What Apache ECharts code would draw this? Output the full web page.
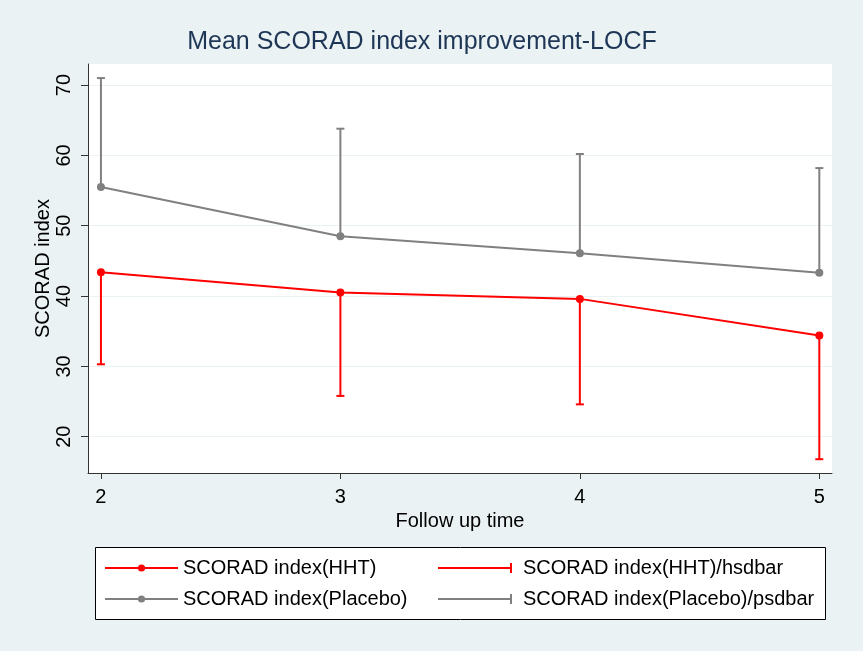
<!DOCTYPE html>
<html>
<head>
<meta charset="utf-8">
<script src="https://cdn.jsdelivr.net/npm/echarts@6/dist/echarts.min.js"></script>
<style>
html,body{margin:0;padding:0;background:#eaf2f3;}
#chart{width:863px;height:651px;}
</style>
</head>
<body>
<div id="chart"></div>
<script>
// ---- data ----
var followUpTime = [2, 3, 4, 5];
var hhtMean = [43.4, 40.5, 39.6, 34.4];
var hhtLowerSd = [30.3, 25.8, 24.6, 16.8];
var placeboMean = [55.5, 48.5, 46.1, 43.3];
var placeboUpperSd = [71.0, 63.8, 60.2, 58.2];
var xTicks = [2, 3, 4, 5];
var yTicks = [20, 30, 40, 50, 60, 70];

var FONT = '"Liberation Sans", Arial, sans-serif';
var RED = '#ff0000';
var GRAY = '#808080';

function pairs(xs, ys) { return xs.map(function (x, i) { return [x, ys[i]]; }); }
function triples(xs, a, b) { return xs.map(function (x, i) { return [x, a[i], b[i]]; }); }

function errRender(params, api) {
  var p0 = api.coord([api.value(0), api.value(1)]);
  var p1 = api.coord([api.value(0), api.value(2)]);
  var c = api.visual('color');
  var hw = 4;
  return {
    type: 'group',
    children: [
      { type: 'line', shape: { x1: p0[0], y1: p0[1], x2: p1[0], y2: p1[1] }, style: { stroke: c, lineWidth: 2 } },
      { type: 'line', shape: { x1: p1[0] - hw, y1: p1[1], x2: p1[0] + hw, y2: p1[1] }, style: { stroke: c, lineWidth: 2 } }
    ]
  };
}

var barIcon = 'path://M0,4 L72,4 L72,0 L74,0 L74,10 L72,10 L72,6 L0,6 Z';

var chart = echarts.init(document.getElementById('chart'), null, { renderer: 'canvas' });
chart.setOption({
  backgroundColor: '#eaf2f3',
  animation: false,
  textStyle: { fontFamily: FONT },
  title: {
    text: 'Mean SCORAD index improvement-LOCF',
    left: 422, top: 30, textAlign: 'center',
    padding: 0,
    textStyle: { fontFamily: FONT, fontSize: 25, fontWeight: 'normal', color: '#1e3656' }
  },
  graphic: [{
    type: 'rect', left: 95, top: 547, z: 0,
    shape: { width: 730, height: 72 },
    style: { fill: '#ffffff', stroke: '#000000', lineWidth: 1 }
  }],
  grid: {
    left: 88, right: 31, top: 64, bottom: 178,
    show: true, backgroundColor: '#ffffff', borderWidth: 0
  },
  legend: [{
    orient: 'vertical', left: 104, top: 558, padding: 0,
    itemWidth: 73, itemHeight: 9, itemGap: 11,
    data: ['SCORAD index(HHT)', 'SCORAD index(Placebo)'],
    textStyle: { fontFamily: FONT, fontSize: 20, color: '#000', lineHeight: 20 }
  }, {
    orient: 'vertical', left: 438, top: 558, padding: 0,
    itemWidth: 74, itemHeight: 10, itemGap: 11,
    data: [
      { name: 'SCORAD index(HHT)/hsdbar', icon: barIcon },
      { name: 'SCORAD index(Placebo)/psdbar', icon: barIcon }
    ],
    textStyle: { fontFamily: FONT, fontSize: 20, color: '#000', lineHeight: 20, padding: [0, 0, 0, 6] }
  }],
  xAxis: {
    type: 'value', min: 1.946, max: 5.053,
    name: 'Follow up time', nameLocation: 'middle', nameGap: 38,
    nameMoveOverlap: false,
    nameTextStyle: { fontFamily: FONT, fontSize: 20, color: '#000' },
    axisLine: { show: true, onZero: false, lineStyle: { color: '#333', width: 1 } },
    axisTick: { show: true, length: 6, customValues: xTicks, lineStyle: { color: '#333' } },
    axisLabel: { customValues: xTicks, margin: 14, fontFamily: FONT, fontSize: 20, color: '#000' },
    splitLine: { show: false }
  },
  yAxis: {
    type: 'value', min: 14.84, max: 73.0,
    name: 'SCORAD index', nameLocation: 'middle', nameGap: 35, nameRotate: 90,
    nameMoveOverlap: false,
    nameTextStyle: { fontFamily: FONT, fontSize: 20, color: '#000' },
    axisLine: { show: true, onZero: false, lineStyle: { color: '#333', width: 1 } },
    axisTick: { show: true, length: 7, customValues: yTicks, lineStyle: { color: '#333' } },
    axisLabel: { customValues: yTicks, rotate: 90, margin: 14, fontFamily: FONT, fontSize: 20, color: '#000' },
    splitLine: { show: true, lineStyle: { color: '#eaf2f3', width: 1 } }
  },
  series: [{
    name: 'SCORAD index(Placebo)/psdbar', type: 'custom',
    color: GRAY, itemStyle: { color: GRAY },
    renderItem: errRender, encode: { x: 0, y: [1, 2] },
    data: triples(followUpTime, placeboMean, placeboUpperSd), z: 2
  }, {
    name: 'SCORAD index(HHT)/hsdbar', type: 'custom',
    color: RED, itemStyle: { color: RED },
    renderItem: errRender, encode: { x: 0, y: [1, 2] },
    data: triples(followUpTime, hhtMean, hhtLowerSd), z: 2
  }, {
    name: 'SCORAD index(Placebo)', type: 'line',
    data: pairs(followUpTime, placeboMean),
    symbol: 'circle', symbolSize: 8,
    lineStyle: { color: GRAY, width: 2 }, itemStyle: { color: GRAY },
    z: 3
  }, {
    name: 'SCORAD index(HHT)', type: 'line',
    data: pairs(followUpTime, hhtMean),
    symbol: 'circle', symbolSize: 8,
    lineStyle: { color: RED, width: 2 }, itemStyle: { color: RED },
    z: 3
  }]
});
</script>
</body>
</html>
